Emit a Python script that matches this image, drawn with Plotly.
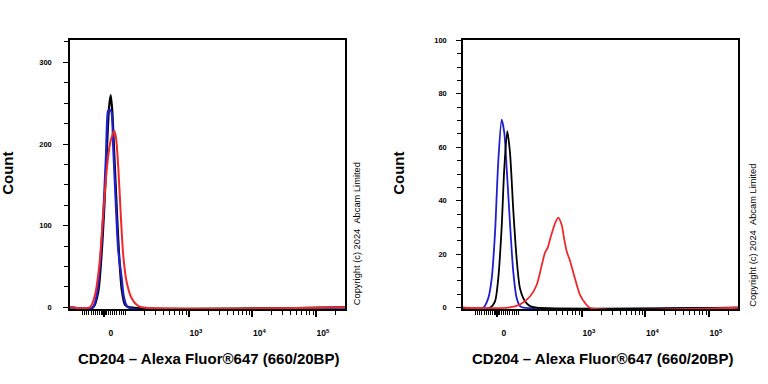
import math
import plotly.graph_objects as go

# ---------------- data (x in biexponential display units of the axis) ----------------
# display units: 0 -> 0, 10^2 -> 0.338, then one unit per decade
LIN = 0.338

left_black_x = [-0.169, -0.090, -0.036, 0.005, 0.043, 0.079, 0.106, 0.131, 0.162, 0.200, 0.236, 0.279, 0.331, 0.409]
left_black_y = [0, 19, 67, 123, 188, 244, 260, 240, 188, 123, 67, 22, 3, 0]

left_blue_x = [-0.178, -0.106, -0.052, -0.011, 0.031, 0.063, 0.083, 0.115, 0.146, 0.189, 0.225, 0.279, 0.315, 0.380]
left_blue_y = [0, 19, 63, 115, 184, 240, 242, 240, 196, 123, 70, 35, 12, 0]

left_red_x = [-0.220, -0.142, -0.074, -0.011, 0.043, 0.094, 0.137, 0.162, 0.189, 0.225, 0.263, 0.304, 0.357, 0.436, 0.515, 0.594]
left_red_y = [0, 15, 51, 115, 168, 200, 212, 216, 208, 172, 115, 63, 31, 11, 3, 0]

right_blue_x = [-0.216, -0.137, -0.083, -0.031, 0.020, 0.074, 0.115, 0.153, 0.205, 0.257, 0.310, 0.362, 0.414]
right_blue_y = [0, 3.6, 10.9, 27.9, 54.5, 70.3, 65.5, 52, 31.5, 13.3, 3.6, 0.6, 0]

right_black_x = [-0.110, -0.031, 0.020, 0.074, 0.115, 0.162, 0.205, 0.257, 0.310, 0.362, 0.441, 0.520, 0.625]
right_black_y = [0, 2.4, 10.9, 30.3, 52, 66, 58, 36.4, 18.2, 7.3, 2.4, 0.6, 0]

right_red_x = [0.178, 0.362, 0.520, 0.625, 0.704, 0.756, 0.800, 0.835, 0.913, 0.965, 1.019, 1.060, 1.098, 1.150, 1.228, 1.307, 1.386, 1.465]
right_red_y = [0, 1.2, 4.2, 8.5, 15.8, 20.6, 22.5, 25.5, 31.5, 33.7, 30.9, 25.5, 21, 17.6, 10.9, 4.8, 1.8, 0]

x_major_vals = [0, 1e3, 1e4, 1e5]
x_major_text = ["0", "10<sup>3</sup>", "10<sup>4</sup>", "10<sup>5</sup>"]

left_y_major = [0, 100, 200, 300]
right_y_major = [0, 20, 40, 60, 80, 100]

x_title = "CD204 \u2013 Alexa Fluor\u00ae647 (660/20BP)"
y_title = "Count"
copyright_text = "Copyright (c) 2024\u00a0\u00a0Abcam Limited"

# ---------------- helpers ----------------
def disp(v):
    if abs(v) <= 100:
        return v / 100.0 * LIN
    s = 1 if v > 0 else -1
    return s * (math.log10(abs(v)) - 2 + LIN)

X_RANGE = [-0.535, 3.795]

minor_raw = [v for v in range(-100, 101, 10) if v != 0]
minor_raw += [v for v in range(-10, 11, 1) if v != 0]
for dec in (100, 1000, 10000):
    minor_raw += [k * dec for k in range(2, 10)]
minor_raw += [200000]
minor_vals = [disp(v) for v in minor_raw]
major_vals = [disp(v) for v in x_major_vals]

def extend(xs, ys):
    return [X_RANGE[0]] + xs + [X_RANGE[1]], [0] + ys + [0]

FONT = "Liberation Sans, Arial, sans-serif"
BLACK = "#000000"
BLUE = "#1f1fd0"
RED = "#f0282c"

fig = go.Figure()

def add(xs, ys, color, width, xa, ya):
    ex, ey = extend(xs, ys)
    fig.add_trace(go.Scatter(x=ex, y=ey, mode="lines",
                             line=dict(color=color, width=width, shape="spline", smoothing=0.7),
                             xaxis=xa, yaxis=ya, showlegend=False, hoverinfo="skip"))

add(left_black_x, left_black_y, BLACK, 2.2, "x", "y")
add(left_blue_x, left_blue_y, BLUE, 2.2, "x", "y")
add(left_red_x, left_red_y, RED, 2.0, "x", "y")
add(right_blue_x, right_blue_y, BLUE, 1.8, "x2", "y2")
add(right_black_x, right_black_y, BLACK, 1.8, "x2", "y2")
add(right_red_x, right_red_y, RED, 1.8, "x2", "y2")

W, H = 768, 384
ydom = [1 - 311 / H, 1 - 37 / H]

def xaxis(dom, anchor):
    return dict(domain=dom, anchor=anchor, range=X_RANGE, showgrid=False, zeroline=False,
                showline=True, linecolor=BLACK, linewidth=1.5, mirror=True,
                tickmode="array", tickvals=major_vals, ticktext=x_major_text,
                ticks="outside", ticklen=6, tickwidth=1.5, tickcolor=BLACK,
                ticklabelshift=7, ticklabelstandoff=9,
                tickfont=dict(family=FONT, size=8.5, color=BLACK, weight="bold"),
                minor=dict(tickmode="array", tickvals=minor_vals, ticks="outside",
                           ticklen=4, tickwidth=1, tickcolor=BLACK))

def yaxis(dom, anchor, rng, vals, minor_dtick, fsize, standoff):
    return dict(domain=dom, anchor=anchor, range=rng, showgrid=False, zeroline=False,
                showline=True, linecolor=BLACK, linewidth=1.5, mirror=True,
                tickmode="array", tickvals=vals, ticktext=[str(v) for v in vals],
                ticks="outside", ticklen=5, tickwidth=1.2, tickcolor=BLACK,
                ticklabelstandoff=standoff,
                tickfont=dict(family=FONT, size=fsize, color=BLACK, weight="bold"),
                minor=dict(dtick=minor_dtick, ticks="outside", ticklen=4, tickwidth=1,
                           tickcolor=BLACK))

fig.update_layout(
    width=W, height=H, margin=dict(l=0, r=0, t=0, b=0),
    paper_bgcolor="white", plot_bgcolor="white",
    xaxis=xaxis([70 / W, 345 / W], "y"),
    yaxis=yaxis(ydom, "x", [-2.5, 327], left_y_major, 25, 7.5, 10),
    xaxis2=xaxis([463 / W, 738 / W], "y2"),
    yaxis2=yaxis(ydom, "x2", [-0.6, 100], right_y_major, 5, 7.5, 8),
)

ann = []
for cx in (8, 399):
    ann.append(dict(x=cx / W, y=1 - 173 / H, xref="paper", yref="paper", text=y_title,
                    xanchor="center", yanchor="middle",
                    showarrow=False, textangle=-90,
                    font=dict(family=FONT, size=15, color=BLACK, weight="bold")))
for cx in (208, 602):
    ann.append(dict(x=cx / W, y=1 - 361.5 / H, xref="paper", yref="paper", text=x_title,
                    xanchor="center", yanchor="middle",
                    showarrow=False, font=dict(family=FONT, size=15, color=BLACK, weight="bold")))
for cx, cy in ((357, 234.5), (753, 236)):
    ann.append(dict(x=cx / W, y=1 - cy / H, xref="paper", yref="paper", text=copyright_text,
                    xanchor="center", yanchor="middle",
                    showarrow=False, textangle=-90,
                    font=dict(family=FONT, size=9.3, color=BLACK)))
fig.update_layout(annotations=ann)

fig.write_html("out.html", config={"displayModeBar": False},
               post_script="document.body.style.margin='0';document.body.style.padding='0';")
